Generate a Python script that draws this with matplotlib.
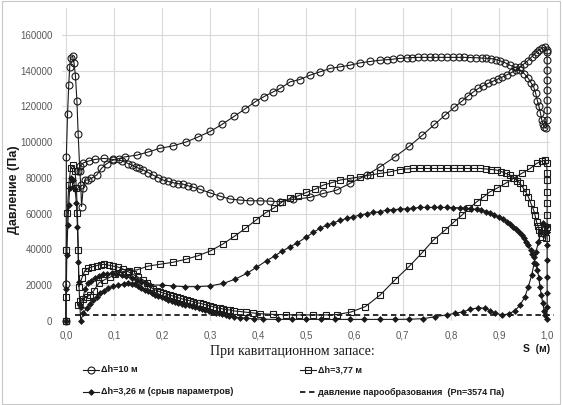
import matplotlib.pyplot as plt
from matplotlib.lines import Line2D
from matplotlib.patches import Rectangle
from matplotlib.ticker import FuncFormatter

# dh = 10 m, branch with the leading-edge spike
c1_s = [0.000, 0.0005, 0.001, 0.0035, 0.006, 0.008, 0.0097, 0.014, 0.017, 0.020, 0.023, 0.0256,
        0.029, 0.031, 0.0326, 0.036, 0.0395, 0.046, 0.053, 0.064, 0.074, 0.085, 0.098, 0.110,
        0.123, 0.147, 0.170, 0.195, 0.222, 0.249, 0.274, 0.300, 0.325, 0.350, 0.372, 0.393,
        0.412, 0.430, 0.445, 0.466, 0.486, 0.507, 0.528, 0.549, 0.570, 0.590, 0.611, 0.632,
        0.653, 0.668, 0.680, 0.694, 0.708, 0.720, 0.732, 0.744, 0.756, 0.768, 0.780, 0.792,
        0.804, 0.816, 0.828, 0.840, 0.852, 0.864, 0.874, 0.884, 0.893, 0.902, 0.912, 0.923,
        0.934, 0.944, 0.953, 0.961, 0.967, 0.972, 0.976, 0.980, 0.983, 0.986, 0.989, 0.992,
        0.994, 0.998, 1.0, 1.0, 1.0, 1.0, 1.0, 1.0, 1.0, 1.0]
c1_p = [0, 20500, 91800, 115500, 131900, 142000, 147300, 148000, 144300, 136900, 123100, 104300,
        84000, 76000, 64000, 74100, 78800, 78800, 79700, 81600, 85300, 88000, 90000, 90800,
        91800, 92700, 94400, 96500, 97900, 100000, 102800, 106000, 110000, 114500, 118500, 122500,
        125500, 128000, 130000, 133700, 135000, 137400, 139300, 141200, 142100, 143000, 144300, 145100,
        145800, 146100, 146400, 146800, 147100, 147300, 147400, 147400, 147400, 147400, 147400, 147400,
        147400, 147400, 147400, 147300, 147200, 147000, 146900, 146700, 146200, 145500, 144500, 143000,
        141800, 140200, 138200, 135600, 133000, 130900, 127500, 123000, 120000, 116500, 112300, 110000,
        108600, 107700, 112300, 117900, 123500, 129100, 134600, 140200, 145800, 150500]

# dh = 10 m, second branch
c2_s = [0.025, 0.030, 0.036, 0.048, 0.060, 0.079, 0.098, 0.116, 0.130, 0.137, 0.145, 0.152,
        0.161, 0.171, 0.181, 0.192, 0.202, 0.213, 0.223, 0.233, 0.244, 0.254, 0.265, 0.279,
        0.299, 0.320, 0.341, 0.362, 0.383, 0.403, 0.424, 0.445, 0.473, 0.507, 0.535, 0.563,
        0.590, 0.625, 0.653, 0.684, 0.714, 0.741, 0.766, 0.788, 0.807, 0.823, 0.835, 0.847,
        0.857, 0.867, 0.877, 0.887, 0.897, 0.907, 0.917, 0.927, 0.936, 0.944, 0.952, 0.960,
        0.968, 0.974, 0.978, 0.983, 0.989, 0.996, 1.0]
c2_p = [84000, 86500, 88400, 89500, 90300, 90900, 90300, 89600, 88000, 87200, 86200, 85300,
        84400, 83000, 81600, 80200, 78800, 78000, 77300, 76800, 76500, 75600, 74800, 73600,
        71700, 69800, 68200, 67600, 67200, 67200, 67000, 66700, 68000, 69100, 71300, 73200,
        76900, 81600, 86200, 91800, 97800, 103900, 109900, 115100, 119400, 122900, 125700, 128100,
        130000, 131500, 132800, 134000, 135200, 136400, 137700, 139000, 140600, 142100, 143800, 145600,
        147700, 149300, 150500, 151500, 152400, 153300, 151500]

# dh = 3,77 m, branch with the spike
q1_s = [0.000, 0.0002, 0.001, 0.003, 0.006, 0.010, 0.015, 0.019, 0.022, 0.024, 0.026, 0.027,
        0.033, 0.039, 0.046, 0.055, 0.064, 0.072, 0.080, 0.089, 0.098, 0.108, 0.119, 0.130,
        0.140, 0.150, 0.161, 0.168, 0.175, 0.182, 0.189, 0.195, 0.202, 0.209, 0.216, 0.223,
        0.230, 0.237, 0.244, 0.251, 0.258, 0.265, 0.272, 0.279, 0.286, 0.292, 0.299, 0.306,
        0.313, 0.320, 0.327, 0.334, 0.341, 0.350, 0.362, 0.375, 0.389, 0.403, 0.430, 0.458,
        0.485, 0.513, 0.540, 0.563, 0.592, 0.622, 0.653, 0.684, 0.714, 0.739, 0.764, 0.788,
        0.807, 0.823, 0.838, 0.854, 0.868, 0.881, 0.895, 0.913, 0.930, 0.947, 0.965, 0.978,
        0.989, 0.996]
q1_p = [0, 13600, 39700, 60200, 76000, 85300, 87000, 84000, 74100, 60200, 39700, 19200,
        23800, 27900, 29500, 30300, 31000, 31500, 31700, 31200, 30700, 30200, 29000, 27500,
        26000, 24500, 22900, 21000, 19200, 17800, 17000, 16400, 15700, 15100, 14500, 13900,
        13300, 12700, 12200, 11700, 11300, 10800, 10300, 9900, 9400, 8900, 8400, 8000,
        7500, 7100, 6700, 6400, 6100, 5600, 5300, 4900, 4500, 4100, 3700, 3500,
        3400, 3400, 3400, 3600, 5000, 8000, 14500, 23000, 30700, 37800, 45300, 50800,
        55500, 59200, 63000, 66700, 69400, 72200, 74100, 76900, 79700, 82500, 85300, 88100,
        89400, 90000]

# dh = 3,77 m, second branch
q2_s = [0.025, 0.030, 0.036, 0.043, 0.050, 0.058, 0.069, 0.080, 0.091, 0.103, 0.116, 0.131,
        0.147, 0.171, 0.195, 0.222, 0.249, 0.275, 0.301, 0.326, 0.350, 0.373, 0.395, 0.415,
        0.433, 0.450, 0.466, 0.483, 0.500, 0.518, 0.535, 0.552, 0.570, 0.590, 0.611, 0.632,
        0.653, 0.674, 0.694, 0.708, 0.722, 0.736, 0.750, 0.764, 0.778, 0.792, 0.806, 0.820,
        0.834, 0.848, 0.861, 0.873, 0.884, 0.895, 0.905, 0.914, 0.923, 0.931, 0.938, 0.944,
        0.950, 0.956, 0.961, 0.966, 0.972, 0.975, 0.978, 0.981, 0.984, 0.987, 0.990, 0.997,
        1.0, 1.0, 1.0, 1.0, 1.0, 1.0, 0.999]
q2_p = [9000, 11000, 12500, 13500, 14500, 17000, 21400, 23000, 24400, 26000, 27500, 28200,
        28500, 30700, 31700, 32800, 34500, 36500, 39300, 43000, 47300, 51800, 56400, 60500,
        63300, 66700, 68500, 70000, 71900, 73700, 76000, 77300, 78800, 79700, 80600, 81600,
        82500, 83400, 84700, 85000, 85300, 85300, 85300, 85300, 85300, 85300, 85300, 85300,
        85300, 85300, 85300, 85000, 84700, 84400, 83500, 82500, 81600, 80000, 78500, 76900,
        74500, 72000, 69400, 66000, 62000, 59000, 55500, 53000, 50800, 49000, 47100, 46200,
        52700, 59200, 65700, 72200, 78800, 82500, 88100]

# dh = 3,26 m, branch with the spike
d1_s = [0.000, 0.001, 0.002, 0.004, 0.006, 0.008, 0.011, 0.015, 0.019, 0.022, 0.024, 0.026,
        0.027, 0.029, 0.031, 0.036, 0.043, 0.050, 0.057, 0.064, 0.071, 0.079, 0.088, 0.098,
        0.109, 0.120, 0.130, 0.137, 0.143, 0.150, 0.157, 0.164, 0.171, 0.178, 0.185, 0.192,
        0.199, 0.206, 0.213, 0.220, 0.227, 0.234, 0.241, 0.248, 0.255, 0.262, 0.269, 0.276,
        0.283, 0.290, 0.297, 0.304, 0.311, 0.318, 0.325, 0.332, 0.340, 0.350, 0.362, 0.375,
        0.390, 0.410, 0.440, 0.470, 0.500, 0.530, 0.560, 0.590, 0.620, 0.653, 0.684, 0.714,
        0.743, 0.767, 0.791, 0.809, 0.826, 0.840, 0.857, 0.871, 0.881, 0.892, 0.906, 0.920,
        0.933, 0.944, 0.954, 0.961, 0.968, 0.973, 0.977, 0.982, 0.987, 0.991, 0.995, 0.999]
d1_p = [0, 18000, 36900, 53600, 64800, 74100, 80000, 79000, 74000, 65700, 52700, 33100,
        22000, 8900, 0, 4300, 7100, 9500, 11500, 13500, 15500, 17000, 18300, 19300,
        20100, 20700, 21000, 20900, 20500, 19500, 18500, 17500, 16500, 15600, 14800, 14000,
        13300, 12600, 12000, 11400, 10800, 10200, 9700, 9200, 8700, 8200, 7700, 7200,
        6700, 6200, 5700, 5200, 4700, 4200, 3700, 3200, 2700, 2200, 1800, 1500,
        1200, 1000, 900, 900, 900, 900, 900, 900, 900, 900, 900, 1000,
        1300, 2400, 3400, 4300, 5200, 6500, 7400, 7100, 5800, 4300, 3400, 3900,
        5800, 8900, 13600, 19200, 25700, 32200, 38700, 44300, 49900, 54600, 53000, 50000]

# dh = 3,26 m, second branch
d2_s = [0.031, 0.040, 0.046, 0.053, 0.060, 0.069, 0.078, 0.086, 0.095, 0.105, 0.116, 0.126,
        0.137, 0.147, 0.157, 0.166, 0.175, 0.199, 0.223, 0.247, 0.272, 0.299, 0.327, 0.351,
        0.376, 0.396, 0.417, 0.435, 0.450, 0.466, 0.480, 0.500, 0.514, 0.528, 0.542, 0.556,
        0.570, 0.584, 0.597, 0.611, 0.625, 0.639, 0.653, 0.667, 0.680, 0.694, 0.708, 0.722,
        0.736, 0.750, 0.764, 0.778, 0.792, 0.805, 0.819, 0.830, 0.842, 0.854, 0.863, 0.872,
        0.881, 0.890, 0.900, 0.909, 0.916, 0.923, 0.930, 0.936, 0.942, 0.947, 0.952, 0.957,
        0.961, 0.966, 0.969, 0.972, 0.976, 0.980, 0.983, 0.985, 0.988, 0.991, 0.994, 0.996,
        0.999, 1.0, 1.0, 1.0, 1.0, 1.0, 1.0, 1.0]
d2_p = [8000, 18000, 21000, 22500, 23800, 25200, 26100, 26500, 26600, 26300, 25700, 24900,
        23800, 22900, 22000, 21000, 20100, 20100, 19600, 19200, 19200, 19600, 21000, 23300,
        26600, 30000, 33700, 36500, 39200, 41500, 43500, 47000, 49500, 51800, 53500, 54900,
        56200, 57400, 58300, 59200, 60000, 60700, 61100, 62000, 62300, 62500, 62800, 63100,
        63500, 63500, 63500, 63500, 63500, 63400, 63300, 63000, 62700, 62400, 61800, 61200,
        60500, 59300, 58000, 56800, 55500, 54200, 52700, 51200, 49700, 48000, 46200, 44300,
        42500, 39500, 37600, 35900, 32000, 28500, 24000, 19200, 14500, 9900, 5500, 3400,
        900, 8000, 15500, 24800, 34100, 42500, 49900, 53000]

# vapour pressure
pv = 3574
pv_s = [0.02, 1.015]

x_ticks = [0.0, 0.1, 0.2, 0.3, 0.4, 0.5, 0.6, 0.7, 0.8, 0.9, 1.0]
y_ticks = [0, 20000, 40000, 60000, 80000, 100000, 120000, 140000, 160000]

labels = ['Δh=10 м', 'Δh=3,77 м', 'Δh=3,26 м (срыв параметров)',
          'давление парообразования  (Pn=3574 Па)']

ink = '#1a1a1a'
circ = dict(color=ink, lw=0.8, marker='o', ms=5, mfc='none', mec=ink, mew=0.8)
sq = dict(color=ink, lw=0.8, marker='s', ms=4.6, mfc='none', mec=ink, mew=0.8)
dia = dict(color=ink, lw=0.8, marker='D', ms=3.0, mfc=ink, mec=ink, mew=0.5)

fig = plt.figure(figsize=(5.63, 4.05), dpi=100)
ax = fig.add_axes([62 / 563, 84 / 405, 488 / 563, 313 / 405])

ax.plot(pv_s, [pv, pv], color=ink, lw=1.3, ls=(0, (3, 2)), zorder=2, clip_on=False)
for s, p, st in [(c1_s, c1_p, circ), (c2_s, c2_p, circ),
                 (q1_s, q1_p, sq), (q2_s, q2_p, sq),
                 (d1_s, d1_p, dia), (d2_s, d2_p, dia)]:
    ax.plot(s, p, clip_on=False, zorder=3, **st)

ax.set_xlim(-0.008, 1.006)
ax.set_ylim(0, 175000)
ax.set_xticks(x_ticks)
ax.set_yticks(y_ticks)
ax.xaxis.set_major_formatter(FuncFormatter(lambda v, _: f'{v:.1f}'.replace('.', ',')))
ax.yaxis.set_major_formatter(FuncFormatter(lambda v, _: f'{int(v)}'))
ax.tick_params(length=0, labelsize=7, labelcolor='#595959', pad=7)
for lab in ax.get_xticklabels() + ax.get_yticklabels():
    lab.set_fontfamily('Liberation Sans')
ax.grid(True, color='#d9d9d9', lw=0.8)
ax.set_axisbelow(True)
for sp in ax.spines.values():
    sp.set_visible(False)

fig.text(14 / 563, 1 - 190 / 405, 'Давление (Па)', rotation=90, ha='center', va='center',
         fontsize=9, fontweight='bold', family='Liberation Sans', color=ink)
fig.text(537 / 563, 1 - 349 / 405, 'S  (м)', ha='center', va='center',
         fontsize=7.5, fontweight='bold', family='Liberation Sans', color=ink)
fig.text(292 / 563, 1 - 352 / 405, 'При кавитационном запасе:', ha='center', va='center',
         fontsize=10, family='Liberation Serif', color=ink)

# legend entries
handles = [(83, 370, circ), (300, 370, sq), (83, 392, dia),
           (300, 392, dict(color=ink, lw=1.3, ls=(0, (3, 2))))]
for (x0, y0, st), lab in zip(handles, labels):
    yf = 1 - y0 / 405
    fig.add_artist(Line2D([x0 / 563, (x0 + 16) / 563], [yf, yf], transform=fig.transFigure,
                          markevery=[], **st))
    if 'marker' in st:
        fig.add_artist(Line2D([(x0 + 8) / 563], [yf], transform=fig.transFigure, **st))
    fig.text((x0 + 18) / 563, yf, lab, ha='left', va='center', fontsize=6.5,
             fontweight='bold', family='Liberation Sans', color=ink)

fig.patches.append(Rectangle((0.004, 0.003), 0.99, 0.994, transform=fig.transFigure,
                             fill=False, ec='#c8c8c8', lw=0.8))

fig.savefig('out.png', dpi=100)
